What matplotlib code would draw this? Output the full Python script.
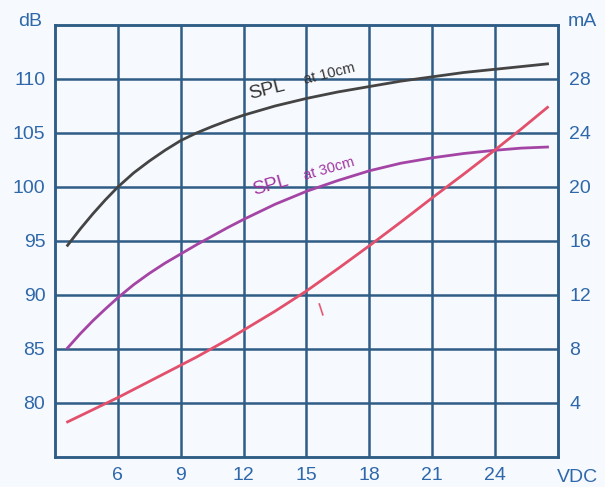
import matplotlib.pyplot as plt
import numpy as np

plt.rcParams['font.family'] = ['Liberation Sans', 'DejaVu Sans']

# voltage samples (VDC)
vdc = [3.6, 4.2, 4.8, 5.4, 6, 6.75, 7.5, 8.25, 9, 9.75, 10.5, 11.25, 12,
       13.5, 15, 16.5, 18, 19.5, 21, 22.5, 24, 25.25, 26.5]
spl_10cm = [94.6, 96.1, 97.5, 98.8, 100.0, 101.3, 102.4, 103.4, 104.3, 105.0,
            105.6, 106.15, 106.65, 107.5, 108.2, 108.8, 109.3, 109.8, 110.2,
            110.6, 110.9, 111.15, 111.4]
spl_30cm = [85.1, 86.4, 87.6, 88.7, 89.75, 90.95, 92.0, 92.95, 93.8, 94.65,
            95.45, 96.25, 97.0, 98.4, 99.6, 100.6, 101.5, 102.2, 102.7,
            103.1, 103.4, 103.6, 103.7]
current_ma = [2.6, 3.05, 3.5, 3.95, 4.4, 5.0, 5.6, 6.2, 6.8, 7.4,
              8.05, 8.7, 9.4, 10.8, 12.3, 13.95, 15.65, 17.4, 19.2,
              20.95, 22.75, 24.3, 25.9]

x_ticks = [6, 9, 12, 15, 18, 21, 24]
db_ticks = [80, 85, 90, 95, 100, 105, 110]
ma_ticks = [4, 8, 12, 16, 20, 24, 28]

bg = '#f6f9fd'
grid_c = '#2f5d86'
lab_c = '#2f68aa'

fig = plt.figure(figsize=(6.05, 4.87), dpi=100, facecolor=bg)
ax = fig.add_axes([0.0909, 0.0616, 0.8314, 0.8871])
ax.set_facecolor(bg)
ax2 = ax.twinx()

ax.set_xlim(3, 27)
ax.set_ylim(75, 115)
ax2.set_ylim(0, 32)

ax.set_xticks(x_ticks)
ax.set_yticks(db_ticks)
ax2.set_yticks(ma_ticks)
ax.grid(True, color=grid_c, linewidth=1.8)
ax.set_axisbelow(True)
for a in (ax, ax2):
    for s in a.spines.values():
        s.set_color(grid_c)
        s.set_linewidth(1.8)
ax.tick_params(axis='both', length=0, labelsize=14, labelcolor=lab_c, pad=7)
ax2.tick_params(axis='y', length=0, labelsize=14, labelcolor=lab_c, pad=8)

ax.plot(vdc, spl_10cm, color='#444444', linewidth=2, solid_joinstyle='round')
ax.plot(vdc, spl_30cm, color='#a445a6', linewidth=2, solid_joinstyle='round')
ax2.plot(vdc, current_ma, color='#e2506c', linewidth=2, solid_joinstyle='round')

# curve labels
ax.text(13.1, 109.0, 'SPL', color='#333333', fontsize=14, rotation=14,
        ha='center', va='center')
ax.text(16.1, 110.5, 'at 10cm', color='#333333', fontsize=10.5, rotation=14,
        ha='center', va='center')
ax.text(13.3, 100.1, 'SPL', color='#a035a0', fontsize=14, rotation=16,
        ha='center', va='center')
ax.text(16.1, 101.7, 'at 30cm', color='#a035a0', fontsize=10.5, rotation=16,
        ha='center', va='center')
ax.text(15.7, 88.5, 'I', color='#e2506c', fontsize=13, rotation=18,
        ha='center', va='center')

fig.text(30 / 605, 1 - 22 / 487, 'dB', color=lab_c, fontsize=14, ha='center', va='center')
fig.text(582 / 605, 1 - 22 / 487, 'mA', color=lab_c, fontsize=14, ha='center', va='center')
fig.text(577 / 605, 1 - 477 / 487, 'VDC', color=lab_c, fontsize=14, ha='center', va='center')

fig.savefig('out.png', dpi=100, facecolor=bg)
